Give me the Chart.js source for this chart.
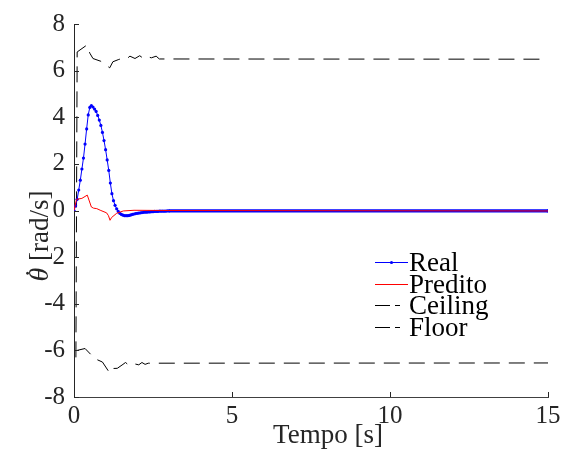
<!DOCTYPE html>
<html>
<head>
<meta charset="utf-8">
<script src="https://cdn.jsdelivr.net/npm/chart.js@4/dist/chart.umd.min.js"></script>
<style>
html,body{margin:0;padding:0;background:#fff;}
#wrap{width:566px;height:450px;position:relative;}
</style>
</head>
<body>
<div id="wrap"><canvas id="c" width="566" height="450"></canvas></div>
<script>
// ---- data ----
const tReal = [0,0.05,0.1,0.15,0.2,0.25,0.3,0.35,0.4,0.45,0.5,0.55,0.6,0.65,0.7,0.75,0.8,0.85,0.9,0.95,
  1,1.05,1.1,1.15,1.2,1.25,1.3,1.35,1.4,1.45,1.5,1.55,1.6,1.65,1.7,1.75,1.8,1.85,1.9,1.95,
  2,2.05,2.1,2.15,2.2,2.25,2.3,2.35,2.4,2.45,2.5,2.55,2.6,2.65,2.7,2.75,2.8,2.85,2.9,2.95,3,15];
const vReal = [0,0.2,0.48,0.88,1.3,1.78,2.25,2.85,3.5,4.1,4.42,4.5,4.44,4.35,4.25,4.08,3.88,3.65,3.35,3.0,
  2.61,2.17,1.72,1.18,0.72,0.42,0.22,0.07,-0.04,-0.12,-0.17,-0.2,-0.22,-0.22,-0.22,-0.21,-0.19,-0.17,-0.15,-0.13,
  -0.12,-0.11,-0.1,-0.09,-0.08,-0.07,-0.07,-0.06,-0.06,-0.05,-0.05,-0.04,-0.04,-0.04,-0.03,-0.03,-0.03,-0.03,-0.03,-0.02,-0.02,-0.02];

const tPred = [0,0.08,0.25,0.42,0.55,0.62,0.72,0.85,1.03,1.09,1.14,1.19,1.35,1.56,1.9,3,15];
const vPred = [0,0.48,0.52,0.66,0.15,0.1,0.08,0.0,-0.1,-0.22,-0.42,-0.3,-0.12,-0.02,0.01,0.0,-0.02];

const tCeil = [0.06,0.1,0.41,0.5,0.6,0.85,1.13,1.23,1.4,1.6,1.68,1.77,1.93,2.08,2.2,2.3,2.45,2.6,2.7,15];
const vCeil = [-6.3,6.8,7.1,6.75,6.52,6.4,6.12,6.38,6.47,6.56,6.52,6.62,6.52,6.64,6.52,6.6,6.55,6.62,6.5,6.49];

const tFloor = [0.1,0.35,0.55,0.65,0.9,1.12,1.17,1.37,1.55,1.63,1.72,1.82,2.05,2.15,2.25,2.35,2.6,15];
const vFloor = [-6.0,-5.92,-6.2,-6.35,-6.5,-6.95,-6.78,-6.77,-6.6,-6.52,-6.62,-6.55,-6.62,-6.52,-6.6,-6.55,-6.55,-6.54];

const seriesNames = ['Real','Predito','Ceiling','Floor'];
const xTicks = [0,5,10,15];
const yTicks = [-8,-6,-4,-2,0,2,4,6,8];
const xTitle = 'Tempo [s]';
const yTitleSym = 'θ';
const yTitleDot = '˙';
const yTitleUnit = ' [rad/s]';

const pts = (t,v) => t.map((x,i)=>({x:x,y:v[i]}));

const SERIF = 'Liberation Serif';
const TXT = '#262626';

const BLUE = '#0000ff', RED = '#ff0000', BLACK = '#000000';
const DASH = [16,9];

const decor = {
  id:'decor',
  afterDraw(chart){
    const ctx = chart.ctx, a = chart.chartArea;
    const xs = chart.scales.x, ys = chart.scales.y;
    ctx.save();
    ctx.strokeStyle = TXT; ctx.lineWidth = 1;
    ys.ticks.forEach(tk=>{
      const y = Math.round(ys.getPixelForValue(tk.value))+0.5;
      ctx.beginPath(); ctx.moveTo(a.left, y); ctx.lineTo(a.left+5, y); ctx.stroke();
    });
    xs.ticks.forEach(tk=>{
      const x = Math.round(xs.getPixelForValue(tk.value))+0.5;
      ctx.beginPath(); ctx.moveTo(x, a.bottom); ctx.lineTo(x, a.bottom-5); ctx.stroke();
    });
    ctx.fillStyle = TXT;
    ctx.font = '27px "' + SERIF + '"';
    ctx.textAlign = 'center'; ctx.textBaseline = 'alphabetic';
    ctx.fillText(xTitle, 328, 443);
    // y title, rotated
    ctx.save();
    ctx.translate(48, 236);
    ctx.rotate(-Math.PI/2);
    ctx.font = 'italic 28px "' + SERIF + '"';
    const w1 = ctx.measureText(yTitleSym).width;
    ctx.font = '27px "' + SERIF + '"';
    const w2 = ctx.measureText(yTitleUnit).width;
    const x0 = -(w1+w2)/2;
    ctx.textAlign = 'left';
    ctx.font = 'italic 28px "' + SERIF + '"';
    ctx.fillText(yTitleSym, x0, 0);
    ctx.textAlign = 'center';
    ctx.font = '28px "' + SERIF + '"';
    ctx.fillText(yTitleDot, x0 + w1*0.6, -4);
    ctx.textAlign = 'left';
    ctx.font = '27px "' + SERIF + '"';
    ctx.fillText(yTitleUnit, x0 + w1, 0);
    ctx.restore();
    // legend
    const items = [
      {c:BLUE, type:'marker'},
      {c:RED, type:'solid'},
      {c:BLACK, type:'dash'},
      {c:BLACK, type:'dash'}
    ];
    ctx.font = '27px "' + SERIF + '"';
    ctx.textAlign = 'left'; ctx.textBaseline = 'alphabetic';
    items.forEach((it,i)=>{
      const base = 271 + i*21.7;
      const ly = Math.round(base - 9) + 0.5;
      ctx.strokeStyle = it.c; ctx.lineWidth = 1;
      if(it.type==='dash'){
        ctx.beginPath(); ctx.moveTo(375, ly); ctx.lineTo(390, ly); ctx.stroke();
        ctx.beginPath(); ctx.moveTo(395, ly); ctx.lineTo(400, ly); ctx.stroke();
      } else {
        ctx.beginPath(); ctx.moveTo(375, ly); ctx.lineTo(408, ly); ctx.stroke();
        if(it.type==='marker'){
          ctx.fillStyle = it.c;
          ctx.beginPath(); ctx.arc(391.5, ly, 1.6, 0, Math.PI*2); ctx.fill();
        }
      }
      ctx.fillStyle = BLACK;
      ctx.fillText(seriesNames[i], 409, base);
    });
    ctx.restore();
  }
};

Chart.defaults.font.family = '"' + SERIF + '"';

new Chart(document.getElementById('c'), {
  type:'scatter',
  data:{
    datasets:[
      {label:seriesNames[0], data:pts(tReal,vReal), showLine:true, borderColor:BLUE, backgroundColor:BLUE,
       borderWidth:1, pointRadius:1.6, pointBorderWidth:0, pointHoverRadius:0, order:1,
       segment:{borderWidth: c => (c.p0.parsed.x >= 2.99 ? 3.2 : 1)}},
      {label:seriesNames[1], data:pts(tPred,vPred), showLine:true, borderColor:RED, backgroundColor:RED,
       borderWidth:1, pointRadius:0, order:0},
      {label:seriesNames[2], data:pts(tCeil,vCeil), showLine:true, borderColor:BLACK, backgroundColor:BLACK,
       borderWidth:1, borderDash:DASH, pointRadius:0, order:2},
      {label:seriesNames[3], data:pts(tFloor,vFloor), showLine:true, borderColor:BLACK, backgroundColor:BLACK,
       borderWidth:1, borderDash:DASH, pointRadius:0, order:3}
    ]
  },
  options:{
    responsive:false, animation:false,
    layout:{padding:{top:22, right:18, left:0, bottom:0}},
    plugins:{legend:{display:false}, tooltip:{enabled:false}},
    scales:{
      x:{type:'linear', min:0, max:15,
         afterBuildTicks: s => { s.ticks = xTicks.map(v=>({value:v})); },
         afterFit: s => { s.height = 53; },
         grid:{display:false, drawTicks:false},
         border:{display:true, color:'#404040', width:1},
         ticks:{padding:4, color:TXT, font:{family:'"' + SERIF + '"', size:25}, maxRotation:0}},
      y:{type:'linear', min:-8, max:8,
         afterBuildTicks: s => { s.ticks = yTicks.map(v=>({value:v})); },
         afterFit: s => { s.width = 74; },
         grid:{display:false, drawTicks:false},
         border:{display:true, color:'#262626', width:1},
         ticks:{padding:9, color:TXT, font:{family:'"' + SERIF + '"', size:25}}}
    }
  },
  plugins:[decor]
});
</script>
</body>
</html>
